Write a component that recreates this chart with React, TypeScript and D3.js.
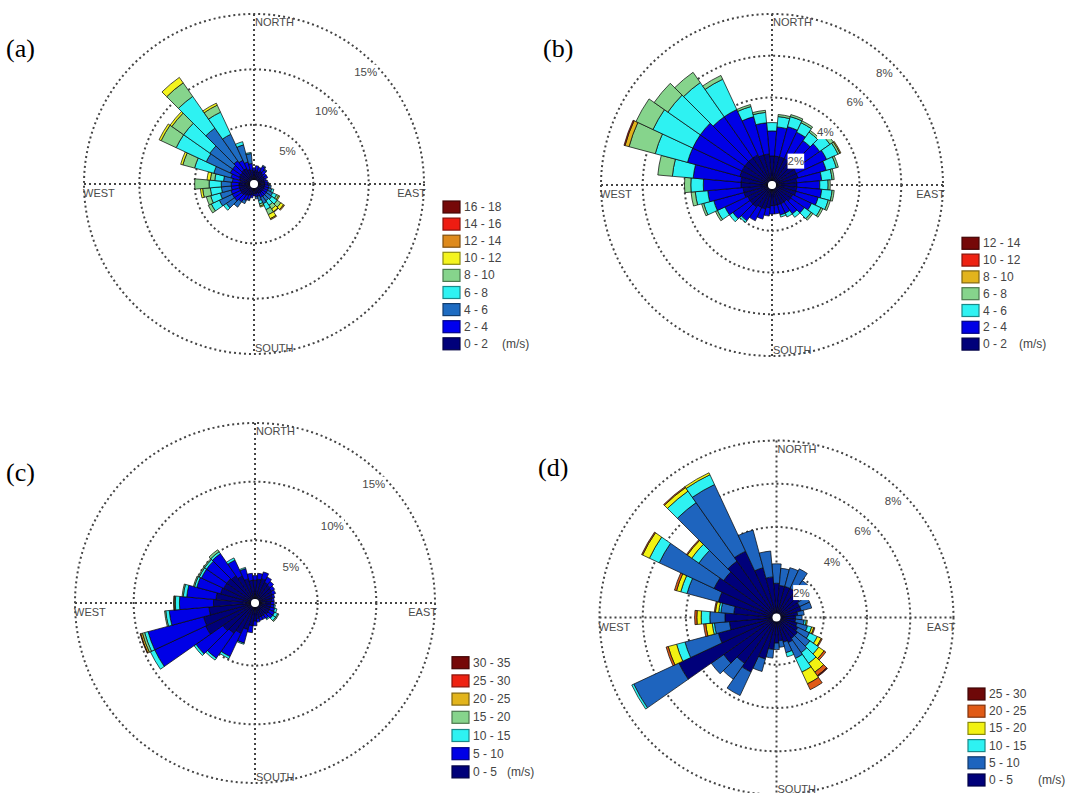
import React from 'react';
import * as d3 from 'd3';

// ---------- shared categories ----------
const DIRECTIONS = [0, 10, 20, 30, 40, 50, 60, 70, 80, 90, 100, 110, 120, 130, 140, 150, 160, 170,
  180, 190, 200, 210, 220, 230, 240, 250, 260, 270, 280, 290, 300, 310, 320, 330, 340, 350];
const COMPASS = ['NORTH', 'EAST', 'SOUTH', 'WEST'];

// ---------- panel (a) ----------
const BINS_A = ['0 - 2', '2 - 4', '4 - 6', '6 - 8', '8 - 10', '10 - 12', '12 - 14', '14 - 16', '16 - 18'];
const COLORS_A = ['#00007a', '#0000ee', '#1e6cc2', '#2ef2f2', '#86d48c', '#f4f41e', '#de8a1c', '#ee1c12', '#760808'];
const RINGS_A = [5, 10, 15];
const FREQ_A = [
  [0.8, 0.3], [0.9, 0.4], [0.8, 0.4], [0.9, 0.5, 0.1], [0.8, 0.4, 0.1], [0.7, 0.3],
  [0.7, 0.3], [0.6, 0.2], [0.6, 0.3], [0.6, 0.3, 0.1], [0.6, 0.4, 0.2], [0.6, 0.4, 0.3, 0.2],
  [0.6, 0.4, 0.5, 0.4, 0.2, 0.1], [0.6, 0.4, 0.6, 0.6, 0.4, 0.3, 0.1], [0.6, 0.4, 0.5, 0.5, 0.4, 0.3, 0.05],
  [0.6, 0.4, 0.6, 0.6, 0.5, 0.4, 0.1], [0.5, 0.3, 0.4, 0.3, 0.2, 0.1], [0.5, 0.3, 0.2],
  [0.5, 0.2], [0.6, 0.3], [0.7, 0.4, 0.1], [0.8, 0.5, 0.3], [0.9, 0.7, 0.6], [1.0, 0.8, 0.9, 0.3],
  [1.0, 0.8, 1.3, 0.8, 0.3], [1.0, 0.8, 1.0, 0.9, 0.4], [1.0, 0.7, 0.9, 1.0, 0.7, 0.2], [1.0, 0.7, 0.9, 1.1, 1.3],
  [0.9, 0.7, 0.8, 0.8, 0.4, 0.3], [1.0, 0.8, 1.6, 1.8, 1.1, 0.2], [1.1, 0.9, 2.4, 3.0, 1.5, 0.2],
  [1.1, 0.9, 2.5, 2.9, 1.3, 0.2], [1.2, 1.0, 3.6, 3.5, 1.5, 0.6], [1.2, 0.8, 2.6, 2.2, 0.7, 0.2],
  [1.0, 0.7, 1.6, 0.3], [0.9, 0.6, 0.9, 0.1],
];

// ---------- panel (b) ----------
const BINS_B = ['0 - 2', '2 - 4', '4 - 6', '6 - 8', '8 - 10', '10 - 12', '12 - 14'];
const COLORS_B = ['#00007a', '#0000e6', '#2ef2f2', '#86d48c', '#e2b41c', '#ee2212', '#760808'];
const RINGS_B = [2, 4, 6, 8];
const FREQ_B = [
  [1.2, 1.2, 0.4], [1.2, 1.4, 0.5, 0.1], [1.2, 1.5, 0.5, 0.1], [1.2, 1.4, 0.5, 0.1], [1.1, 1.3, 0.5, 0.1],
  [1.1, 1.5, 0.6, 0.2], [1.1, 1.6, 0.6, 0.1, 0.05], [1.1, 1.4, 0.5, 0.1], [1.0, 1.2, 0.5, 0.1],
  [1.0, 1.1, 0.4, 0.1], [1.0, 1.2, 0.5, 0.1], [1.0, 1.1, 0.5, 0.1], [0.9, 1.0, 0.5, 0.1],
  [0.9, 0.8, 0.4, 0.1], [0.8, 0.7, 0.2], [0.8, 0.5, 0.2], [0.8, 0.5, 0.1], [0.8, 0.4],
  [0.8, 0.4], [0.9, 0.4], [1.0, 0.5], [1.0, 0.7], [1.1, 0.8, 0.1], [1.1, 1.0, 0.2],
  [1.1, 1.2, 0.4, 0.1], [1.2, 1.5, 0.5, 0.1], [1.2, 1.7, 0.6, 0.2], [1.3, 1.8, 0.6, 0.3],
  [1.3, 2.3, 1.0, 0.7], [1.4, 2.6, 1.6, 1.3, 0.2, 0.05], [1.4, 2.6, 2.1, 0.9], [1.4, 2.6, 1.9, 0.8],
  [1.4, 2.4, 2.0, 0.6], [1.4, 2.4, 1.6, 0.2], [1.3, 1.9, 0.5, 0.1], [1.3, 1.5, 0.5, 0.1],
];

// ---------- panel (c) ----------
const BINS_C = ['0 - 5', '5 - 10', '10 - 15', '15 - 20', '20 - 25', '25 - 30', '30 - 35'];
const COLORS_C = ['#00007a', '#0000e6', '#2ef2f2', '#86d48c', '#e2b41c', '#ee2212', '#760808'];
const RINGS_C = [5, 10, 15];
const FREQ_C = [
  [1.6, 0.4], [1.7, 0.5], [1.8, 0.6], [1.6, 0.5], [1.5, 0.4], [1.4, 0.3],
  [1.3, 0.3], [1.2, 0.2], [1.1, 0.2], [1.0, 0.3], [1.0, 0.3, 0.1], [1.0, 0.4, 0.2],
  [1.0, 0.5, 0.3, 0.1], [1.0, 0.5, 0.3, 0.1], [0.9, 0.4, 0.1], [0.9, 0.3], [0.9, 0.3], [1.0, 0.3],
  [1.2, 0.4], [1.6, 0.6], [2.0, 1.2, 0.1], [2.5, 2.2, 0.2], [2.8, 2.6, 0.2], [3.0, 2.8, 0.2],
  [4.3, 4.8, 0.4], [4.2, 4.9, 0.3, 0.2, 0.15, 0.05], [3.6, 3.4, 0.3, 0.1], [3.2, 2.9, 0.35, 0.1, 0.05],
  [3.0, 2.5, 0.3, 0.1], [2.7, 2.1, 0.2, 0.1], [2.6, 2.1, 0.2, 0.1], [2.6, 2.1, 0.2, 0.1],
  [2.5, 2.3, 0.2, 0.2], [2.2, 1.5, 0.2], [1.8, 0.9, 0.1], [1.6, 0.6],
];

// ---------- panel (d) ----------
const BINS_D = ['0 - 5', '5 - 10', '10 - 15', '15 - 20', '20 - 25', '25 - 30'];
const COLORS_D = ['#00007a', '#1e64be', '#2ef2f2', '#f2f212', '#e05a16', '#6e0808'];
const RINGS_D = [2, 4, 6, 8];
const FREQ_D = [
  [1.4, 0.9], [1.3, 0.8], [1.3, 0.9], [1.3, 1.0], [1.2, 0.7], [1.1, 0.5],
  [1.0, 0.5], [1.0, 0.5], [0.8, 0.3], [0.7, 0.3], [0.7, 0.4, 0.1, 0.05], [0.8, 0.5, 0.2, 0.1, 0.05],
  [0.9, 0.6, 0.4, 0.2, 0.05], [1.0, 0.7, 0.5, 0.3, 0.1], [1.0, 0.8, 0.6, 0.5, 0.2, 0.05], [1.1, 0.8, 0.7, 0.6, 0.3],
  [1.0, 0.5, 0.2], [0.9, 0.3], [1.0, 0.3], [1.3, 0.4], [1.8, 0.6], [2.6, 1.2],
  [2.4, 0.9], [2.8, 0.7], [4.8, 2.3, 0.1], [2.6, 1.6, 0.4, 0.4, 0.1], [2.0, 0.7, 0.1, 0.3, 0.1],
  [2.2, 0.7, 0.4, 0.2, 0.1], [1.8, 0.6, 0.1, 0.15, 0.05], [2.6, 1.5, 0.3, 0.2, 0.1],
  [3.0, 2.8, 0.5, 0.35, 0.05], [2.8, 1.4, 0.4, 0.25, 0.05], [3.0, 3.3, 0.65, 0.2, 0.05],
  [3.2, 3.4, 0.5, 0.1], [2.2, 1.8], [1.7, 1.2],
];

const PANELS = [
  { tag: '(a)', tagX: 6, tagY: 57, cx: 254, cy: 184, R: 170, max: 15, rings: RINGS_A, freq: FREQ_A, bins: BINS_A, colors: COLORS_A, lx: 443, ly: 207, lstep: 17.1, unitDx: 59 },
  { tag: '(b)', tagX: 543, tagY: 57, cx: 772, cy: 185, R: 171, max: 8, rings: RINGS_B, freq: FREQ_B, bins: BINS_B, colors: COLORS_B, lx: 962, ly: 243.3, lstep: 16.8, unitDx: 57 },
  { tag: '(c)', tagX: 6, tagY: 481, cx: 255, cy: 603, R: 180, max: 15, rings: RINGS_C, freq: FREQ_C, bins: BINS_C, colors: COLORS_C, lx: 452, ly: 662.7, lstep: 18.2, unitDx: 55 },
  { tag: '(d)', tagX: 538, tagY: 476, cx: 776.5, cy: 617.5, R: 177, max: 8, rings: RINGS_D, freq: FREQ_D, bins: BINS_D, colors: COLORS_D, lx: 968, ly: 694, lstep: 17.2, unitDx: 70 },
];

const HOLE = 4;
const GRID = { stroke: '#444', strokeWidth: 2, strokeDasharray: '2 3', fill: 'none' };
const SANS = 'Liberation Sans, Arial, sans-serif';

function Rose({ p }: { p: any }) {
  const r = d3.scaleLinear().domain([0, p.max]).range([HOLE, p.R]);
  const arc = d3.arc<any>();
  const half = (5 * Math.PI) / 180;
  const segs: any[] = [];
  DIRECTIONS.forEach((dir, i) => {
    const vals: number[] = p.freq[i] || [];
    const cum = d3.cumsum(vals);
    vals.forEach((v, j) => {
      if (v <= 0) return;
      const a = (dir * Math.PI) / 180;
      segs.push({
        key: `${dir}-${j}`,
        d: arc({ innerRadius: r(cum[j] - v), outerRadius: r(cum[j]), startAngle: a - half, endAngle: a + half }),
        fill: p.colors[j],
      });
    });
  });
  const lblAng = Math.PI / 4;
  return (
    <g>
      <g transform={`translate(${p.cx},${p.cy})`}>
        {p.rings.map((t: number) => (
          <circle key={t} r={r(t)} {...GRID} />
        ))}
        <line x1={0} x2={0} y1={-p.R} y2={p.R} {...GRID} />
        <line x1={-p.R} x2={p.R} y1={0} y2={0} {...GRID} />
        {segs.map((s) => (
          <path key={s.key} d={s.d} fill={s.fill} stroke="#0a0a0a" strokeOpacity={0.8} strokeWidth={0.9} />
        ))}
        <circle r={HOLE} fill="#fff" />
        {p.rings.map((t: number) => {
          const dd = r(t) - 12;
          const x = dd * Math.sin(lblAng);
          const y = -dd * Math.cos(lblAng);
          const txt = `${t}%`;
          const w = txt.length * 6.8 + 3;
          return (
            <g key={'l' + t}>
              <rect x={x - w / 2} y={y - 7.5} width={w} height={15} fill="#fff" />
              <text x={x} y={y} textAnchor="middle" dominantBaseline="central" fontFamily={SANS} fontSize={11.5} fill="#4a4a4a">{txt}</text>
            </g>
          );
        })}
        <text x={1} y={-p.R + 12} fontFamily={SANS} fontSize={11} fill="#4a4a4a">{COMPASS[0]}</text>
        <text x={p.R + 2} y={13} textAnchor="end" fontFamily={SANS} fontSize={11} fill="#4a4a4a">{COMPASS[1]}</text>
        <text x={1} y={p.R - 2} fontFamily={SANS} fontSize={11} fill="#4a4a4a">{COMPASS[2]}</text>
        <text x={-p.R - 1} y={13} fontFamily={SANS} fontSize={11} fill="#4a4a4a">{COMPASS[3]}</text>
      </g>
      <g>
        {p.bins.map((b: string, j: number) => {
          const row = p.bins.length - 1 - j;
          const y = p.ly + row * p.lstep;
          const c = p.colors[j];
          return (
            <g key={b}>
              <rect x={p.lx} y={y - 6} width={17} height={12} fill={c} stroke={d3.color(c)!.darker(1.6).toString()} strokeWidth={1.2} />
              <text x={p.lx + 21} y={y} dominantBaseline="central" fontFamily={SANS} fontSize={12} fill="#444">{b}</text>
              {j === 0 && (
                <text x={p.lx + p.unitDx} y={y} dominantBaseline="central" fontFamily={SANS} fontSize={12} fill="#444">(m/s)</text>
              )}
            </g>
          );
        })}
      </g>
      <text x={p.tagX} y={p.tagY} fontFamily="Liberation Serif, Times New Roman, serif" fontSize={26} fill="#000">{p.tag}</text>
    </g>
  );
}

export default function App() {
  return (
    <svg width={1071} height={793} style={{ position: 'absolute', left: 0, top: 0, background: '#fff' }}>
      <rect width={1071} height={793} fill="#fff" />
      {PANELS.map((p) => (
        <Rose key={p.tag} p={p} />
      ))}
    </svg>
  );
}
